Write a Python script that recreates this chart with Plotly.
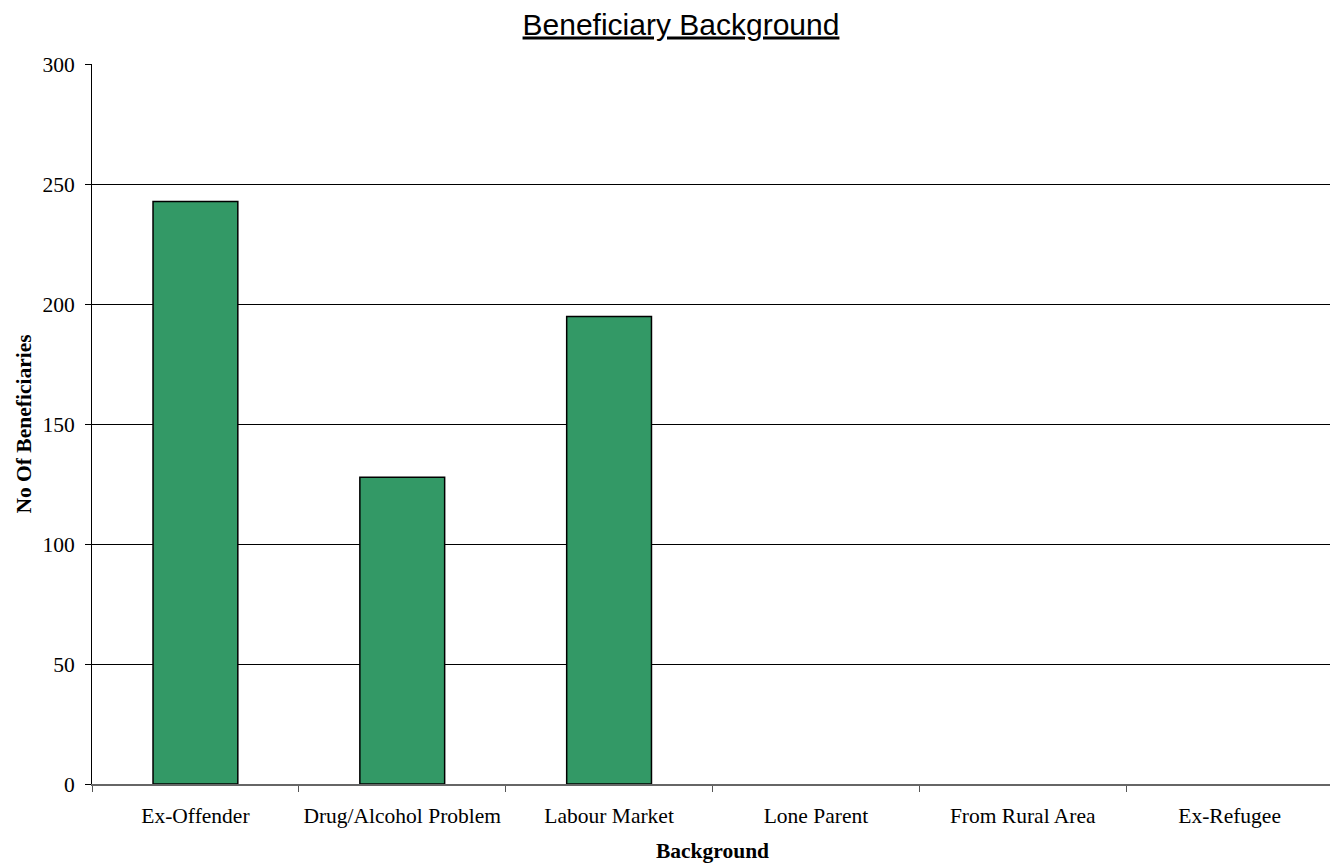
import plotly.graph_objects as go

categories = ["Ex-Offender", "Drug/Alcohol Problem", "Labour Market", "Lone Parent", "From Rural Area", "Ex-Refugee"]
values = [243, 128, 195, 0, 0, 0]
y_ticks = [0, 50, 100, 150, 200, 250, 300]

outline_widths = [1.5 if v > 0 else 0 for v in values]

fig = go.Figure(go.Bar(
    x=categories, y=values,
    marker=dict(color="#339966", line=dict(color="black", width=outline_widths)),
    width=0.41,
))

# page body has an 8px margin, so the figure is sized to fit the 1338x864 window
W, H = 1330, 856
fig.update_layout(
    width=W, height=H,
    margin=dict(l=84, r=5, t=56, b=80, autoexpand=False),
    paper_bgcolor="white", plot_bgcolor="white",
    title=dict(text="<u>Beneficiary Background</u>", x=0.506, xanchor="center",
               xref="container", y=1 - 16 / H, yanchor="middle",
               font=dict(family="Liberation Sans, Arial", size=30, color="black")),
    showlegend=False,
    font=dict(family="Liberation Serif, Times New Roman", color="black"),
)
fig.update_xaxes(
    type="category", tickson="boundaries", ticks="outside", ticklen=6, tickcolor="#555",
    showline=True, linecolor="#666", linewidth=1.5, showgrid=False, automargin=False,
    tickangle=0,
    tickfont=dict(size=21.5, family="Liberation Serif"), ticklabelstandoff=11,
    title=dict(text="<b>Background</b>", font=dict(size=21.5, family="Liberation Serif"), standoff=16),
)
fig.update_yaxes(
    range=[0, 300.4], tickvals=y_ticks, ticks="outside", ticklen=6, tickcolor="black",
    showline=True, linecolor="black", linewidth=1, showgrid=True, gridcolor="black", gridwidth=1,
    zeroline=False, automargin=False,
    tickfont=dict(size=21.5, family="Liberation Serif"), ticklabelstandoff=6,
    title=dict(text="<b>No Of Beneficiaries</b>", font=dict(size=21.5, family="Liberation Serif"), standoff=4),
)
fig.write_html("out.html")
